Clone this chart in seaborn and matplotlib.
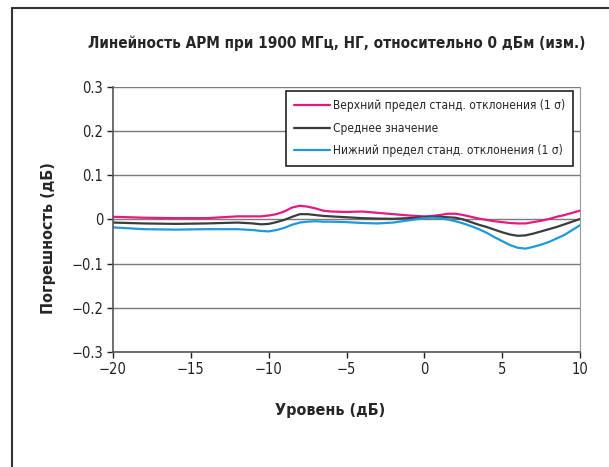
import pandas as pd
import matplotlib.pyplot as plt
import seaborn as sns
from matplotlib.lines import Line2D

# Level (dB) and error values
level = [-20, -18, -16, -14, -12, -11, -10.5, -10, -9.5, -9, -8.5, -8, -7.5, -7,
         -6.5, -6, -5, -4, -3, -2, -1, 0, 0.5, 1, 1.5, 2, 2.5, 3, 3.5, 4,
         4.5, 5, 5.5, 6, 6.5, 7, 7.5, 8, 8.5, 9, 9.5, 10]
upper = [0.006, 0.004, 0.003, 0.003, 0.007, 0.007, 0.007, 0.009, 0.012, 0.018,
         0.027, 0.031, 0.029, 0.025, 0.020, 0.018, 0.017, 0.018, 0.015, 0.012,
         0.009, 0.007, 0.008, 0.010, 0.013, 0.013, 0.010, 0.006, 0.002, -0.001,
         -0.004, -0.006, -0.008, -0.009, -0.009, -0.006, -0.003, 0.001, 0.006, 0.010,
         0.015, 0.020]
mean = [-0.007, -0.009, -0.010, -0.009, -0.007, -0.009, -0.011, -0.010, -0.006, -0.001,
        0.006, 0.012, 0.012, 0.010, 0.008, 0.007, 0.005, 0.003, 0.002, 0.0015,
        0.003, 0.005, 0.006, 0.006, 0.005, 0.004, 0.000, -0.006, -0.012, -0.017,
        -0.023, -0.029, -0.034, -0.037, -0.036, -0.032, -0.027, -0.022, -0.017, -0.011,
        -0.005, 0.001]
lower = [-0.018, -0.022, -0.023, -0.022, -0.022, -0.024, -0.026, -0.027, -0.024, -0.019,
         -0.012, -0.007, -0.005, -0.004, -0.005, -0.005, -0.006, -0.008, -0.009, -0.007,
         -0.002, 0.003, 0.004, 0.003, 0.000, -0.004, -0.009, -0.015, -0.022, -0.030,
         -0.040, -0.049, -0.058, -0.064, -0.066, -0.062, -0.057, -0.051, -0.043, -0.035,
         -0.024, -0.013]

series_names = ["Верхний предел станд. отклонения (1 σ)",
                "Среднее значение",
                "Нижний предел станд. отклонения (1 σ)"]
series_colors = ["#e6197f", "#3c3c3c", "#1f9ad8"]

title = "Линейность АРМ при 1900 МГц, НГ, относительно 0 дБм (изм.)"
x_label = "Уровень (дБ)"
y_label = "Погрешность (дБ)"

sns.set_style("white")
plt.rcParams['font.family'] = ['DejaVu Sans']
plt.rcParams['font.stretch'] = 'condensed'

fig = plt.figure(figsize=(6.09, 4.67), dpi=100)
ax = fig.add_axes([0.1856, 0.2463, 0.7668, 0.5675])

for name, vals, col in zip(series_names, [upper, mean, lower], series_colors):
    df = pd.DataFrame({"level": level, "err": vals})
    sns.lineplot(data=df, x="level", y="err", ax=ax, color=col, lw=1.6, label=name)

ax.set_xlim(-20, 10)
ax.set_ylim(-0.3, 0.3)
ax.set_xticks([-20, -15, -10, -5, 0, 5, 10])
ax.set_yticks([-0.3, -0.2, -0.1, 0, 0.1, 0.2, 0.3])
ax.set_yticklabels(["−0.3", "−0.2", "−0.1", "0", "0.1", "0.2", "0.3"])
ax.yaxis.grid(True, color="#7a7a7a", lw=1.0)
ax.set_axisbelow(True)
ax.tick_params(axis="both", labelsize=10.5, colors="#222222", length=4, width=1,
               direction="out", bottom=True, left=True, pad=3)
for side in ["left", "bottom"]:
    ax.spines[side].set_color("#555555")
    ax.spines[side].set_linewidth(1.2)
ax.spines["right"].set_color("#999999")
ax.spines["top"].set_visible(False)
ax.set_xlabel("")
ax.set_ylabel("")

leg = ax.legend(loc="upper right", bbox_to_anchor=(0.985, 0.985), fontsize=8.6,
                frameon=True, fancybox=False, framealpha=1, handlelength=3.0,
                borderpad=0.7, labelspacing=0.8, handletextpad=0.2, borderaxespad=0)
leg.get_frame().set_edgecolor("#222222")
leg.get_frame().set_linewidth(1.2)

fig.text(0.553, 0.908, title, ha="center", va="center", fontsize=11, fontweight="bold")
fig.text(0.542, 0.122, x_label, ha="center", va="center", fontsize=11.5, fontweight="bold")
fig.text(0.08, 0.49, y_label, ha="center", va="center", rotation=90,
         fontsize=11.5, fontweight="bold")

# outer frame (top and left edges only)
fig.add_artist(Line2D([12 / 609, 1.0], [1 - 8 / 467, 1 - 8 / 467], color="#333333", lw=1.5))
fig.add_artist(Line2D([12 / 609, 12 / 609], [0, 1 - 8 / 467], color="#333333", lw=1.5))

fig.savefig("out.png", dpi=100)
